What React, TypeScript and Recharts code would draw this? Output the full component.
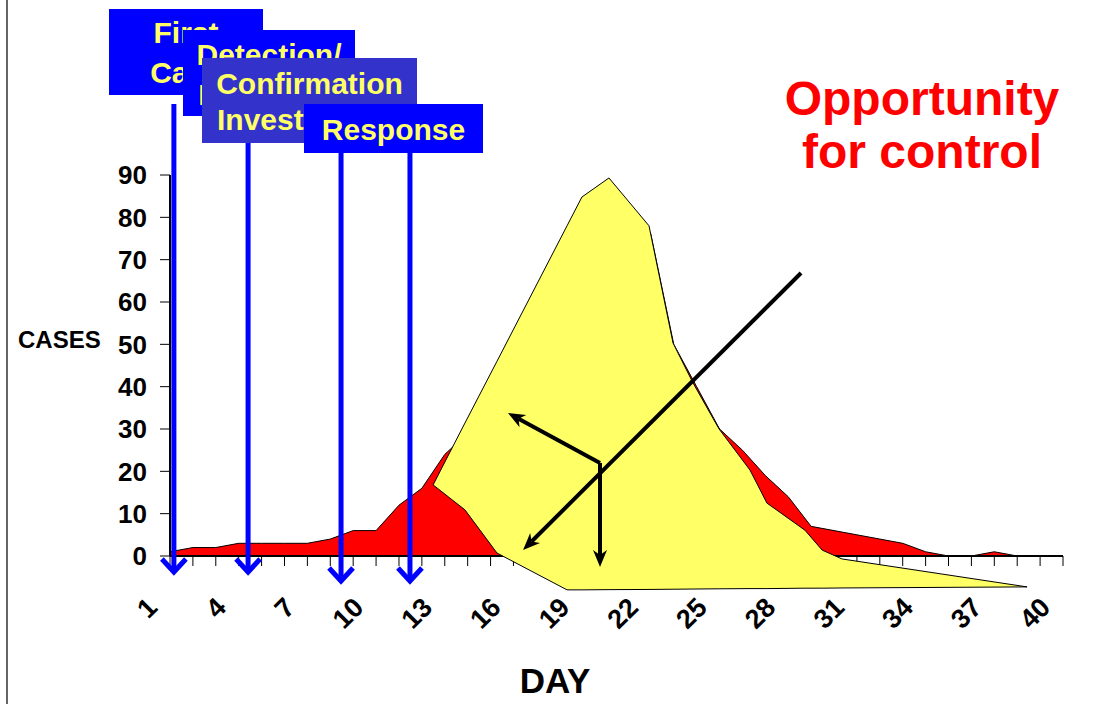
import React from "react";
import { AreaChart, Area, XAxis, YAxis, ReferenceLine } from "recharts";

// epidemic curve, cases per day
const days = [
  1, 2, 3, 4, 5, 6, 7, 8, 9, 10, 11, 12, 13, 14, 15, 16, 17, 18, 19, 20,
  21, 22, 23, 24, 25, 26, 27, 28, 29, 30, 31, 32, 33, 34, 35, 36, 37, 38, 39, 40,
];
const redCases = [
  1, 2, 2, 3, 3, 3, 3, 4, 6, 6, 12, 16, 24, 29, 42, 52, 62, 73, 84, 87,
  82, 76, 50, 40, 30, 25, 19, 14, 7, 6, 5, 4, 3, 1, 0, 0, 1, 0, 0, 0,
];
const dayLabels = [1, 4, 7, 10, 13, 16, 19, 22, 25, 28, 31, 34, 37, 40];
const caseTicks = [0, 10, 20, 30, 40, 50, 60, 70, 80, 90];

// yellow "opportunity" shape (front face), as a band low..high
const yellowDays = [12.49, 13.88, 15.28, 18.34, 18.99, 20.17, 21.92, 22.97, 23.84, 24.98, 26.33, 27.07, 28.73, 29.48, 30.35, 38.43];
const yellowTop = [16.8, 31.4, 46.0, 78.0, 84.8, 89.3, 78.0, 50.3, 40.9, 30.0, 20.3, 12.5, 6.1, 1.4, -0.7, -7.3];
const yellowBottom = [16.8, 10.9, 0.7, -8.0, -8.0, -7.95, -7.9, -7.85, -7.8, -7.75, -7.7, -7.7, -7.6, -7.6, -7.55, -7.3];

// blue milestone arrows (day position, top, tip)
const blueArrowDays = [1.17, 4.41, 8.47, 11.48];
const blueArrowTops = [106.8, 112, 112, 112];
const blueArrowTips = [-4.5, -4.5, -6.6, -6.6];

// black arrows inside the yellow shape: [fromDay, fromCases, toDay, toCases]
const blackArrows = [
  [28.56, 66.85, 16.42, 1.42],
  [19.78, 21.97, 15.76, 33.78],
  [19.78, 21.97, 19.78, -2.6],
];

const FONT = '"Liberation Sans", Arial, sans-serif';
const W = 1113;
const H = 704;

const redData = days.map((d, i) => ({ day: d, cases: redCases[i] }));
const yellowData = yellowDays.map((d, i) => ({ day: d, band: [yellowBottom[i], yellowTop[i]] }));

const DayTick = (props: any) => {
  const { x, y, payload } = props;
  if (!dayLabels.includes(payload.value)) return <g />;
  const ax = x - 11;
  const ay = y + 43;
  return (
    <text
      x={ax}
      y={ay}
      textAnchor="end"
      transform={`rotate(-45 ${ax} ${ay})`}
      fontSize={27}
      fontWeight="bold"
      fill="#000"
      fontFamily={FONT}
    >
      {payload.value}
    </text>
  );
};

const blackArrowShape = (p: any) => {
  const { x1, y1, x2, y2 } = p;
  const a = Math.atan2(y2 - y1, x2 - x1);
  const len = 17;
  const hw = 7;
  const bx = x2 - len * Math.cos(a);
  const by = y2 - len * Math.sin(a);
  const nx = x2 - (len - 5) * Math.cos(a);
  const ny = y2 - (len - 5) * Math.sin(a);
  const px = -Math.sin(a) * hw;
  const py = Math.cos(a) * hw;
  return (
    <g>
      <line x1={x1} y1={y1} x2={nx} y2={ny} stroke="#000" strokeWidth={4} />
      <polygon
        points={`${x2},${y2} ${bx + px},${by + py} ${nx},${ny} ${bx - px},${by - py}`}
        fill="#000"
      />
    </g>
  );
};

const blueArrowShape = (p: any) => {
  const { x1, y1, x2, y2 } = p;
  const tipY = y2 - 3;
  return (
    <g>
      <line x1={x1} y1={y1} x2={x2} y2={tipY} stroke="#0000FF" strokeWidth={5} />
      <polyline
        points={`${x2 - 12},${tipY - 13} ${x2},${tipY} ${x2 + 12},${tipY - 13}`}
        fill="none"
        stroke="#0000FF"
        strokeWidth={5}
        strokeLinejoin="miter"
      />
    </g>
  );
};

const boxes = [
  { x: 109, y: 9, w: 154, h: 86, fill: "#0000FF", lines: ["First", "Case"], base: [43, 83] },
  { x: 183, y: 30, w: 172, h: 86, fill: "#0000FF", lines: ["Detection/", "Reporting"], base: [65, 105] },
  { x: 202, y: 58, w: 215, h: 85, fill: "#3333CC", lines: ["Confirmation", "Investigation"], base: [94, 130] },
  { x: 304, y: 104, w: 179, h: 49, fill: "#0000FF", lines: ["Response"], base: [140] },
];

export default function App() {
  return (
    <div
      style={{
        position: "absolute",
        left: 0,
        top: 0,
        width: W,
        height: H,
        background: "#fff",
        fontFamily: FONT,
        overflow: "hidden",
      }}
    >
      <div style={{ position: "absolute", left: 6, top: 0, width: 2, height: H, background: "#666" }} />

      <div style={{ position: "absolute", left: 0, top: 0 }}>
        <AreaChart width={W} height={H} data={redData} margin={{ top: 175, right: 50, left: 0, bottom: 0 }}>
          <XAxis
            dataKey="day"
            type="number"
            domain={[1, 40]}
            ticks={days}
            interval={0}
            height={148}
            tickSize={10}
            tickMargin={0}
            tick={<DayTick />}
            axisLine={{ stroke: "#000", strokeWidth: 2 }}
            tickLine={{ stroke: "#000", strokeWidth: 1 }}
          />
          <YAxis
            type="number"
            domain={[0, 90]}
            ticks={caseTicks}
            interval={0}
            width={170}
            tickSize={10}
            tickMargin={13}
            tick={{ fontSize: 26, fontWeight: "bold", fill: "#000" }}
            axisLine={{ stroke: "#000", strokeWidth: 2 }}
            tickLine={{ stroke: "#000", strokeWidth: 1 }}
          />
          <Area
            dataKey="cases"
            type="linear"
            fill="#FF0000"
            fillOpacity={1}
            stroke="#000"
            strokeWidth={1}
            dot={false}
            activeDot={false}
            isAnimationActive={false}
          />
        </AreaChart>
      </div>

      <div style={{ position: "absolute", left: 0, top: 0 }}>
        <AreaChart width={W} height={H} data={yellowData} margin={{ top: 5.667, right: 50, left: 170, bottom: 21 }}>
          <XAxis dataKey="day" type="number" domain={[1, 40]} hide />
          <YAxis type="number" domain={[-30, 130]} hide />
          <Area
            dataKey="band"
            type="linear"
            fill="#FFFF66"
            fillOpacity={1}
            stroke="#000"
            strokeWidth={1}
            dot={false}
            activeDot={false}
            isAnimationActive={false}
          />
          {blackArrows.map((a, i) => (
            <ReferenceLine
              key={"k" + i}
              segment={[
                { x: a[0], y: a[1] },
                { x: a[2], y: a[3] },
              ]}
              shape={blackArrowShape}
            />
          ))}
          {blueArrowDays.map((d, i) => (
            <ReferenceLine
              key={"b" + i}
              segment={[
                { x: d, y: blueArrowTops[i] },
                { x: d, y: blueArrowTips[i] },
              ]}
              shape={blueArrowShape}
            />
          ))}
        </AreaChart>
      </div>

      <svg width={W} height={H} style={{ position: "absolute", left: 0, top: 0 }}>
        <text x={18} y={348} fontSize={24} fontWeight="bold" fill="#000" fontFamily={FONT}>
          CASES
        </text>
        <text x={555} y={693} textAnchor="middle" fontSize={35} fontWeight="bold" fill="#000" fontFamily={FONT}>
          DAY
        </text>
        <text x={922} y={115} textAnchor="middle" fontSize={48} fontWeight="bold" fill="#FF0000" fontFamily={FONT}>
          Opportunity
        </text>
        <text x={922} y={168} textAnchor="middle" fontSize={48} fontWeight="bold" fill="#FF0000" fontFamily={FONT}>
          for control
        </text>
        {boxes.map((b, i) => (
          <g key={i}>
            <rect x={b.x} y={b.y} width={b.w} height={b.h} fill={b.fill} />
            {b.lines.map((t, j) => (
              <text
                key={j}
                x={b.x + b.w / 2}
                y={b.base[j]}
                textAnchor="middle"
                fontSize={30}
                fontWeight="bold"
                fill="#FFFF66"
                fontFamily={FONT}
              >
                {t}
              </text>
            ))}
          </g>
        ))}
      </svg>
    </div>
  );
}
